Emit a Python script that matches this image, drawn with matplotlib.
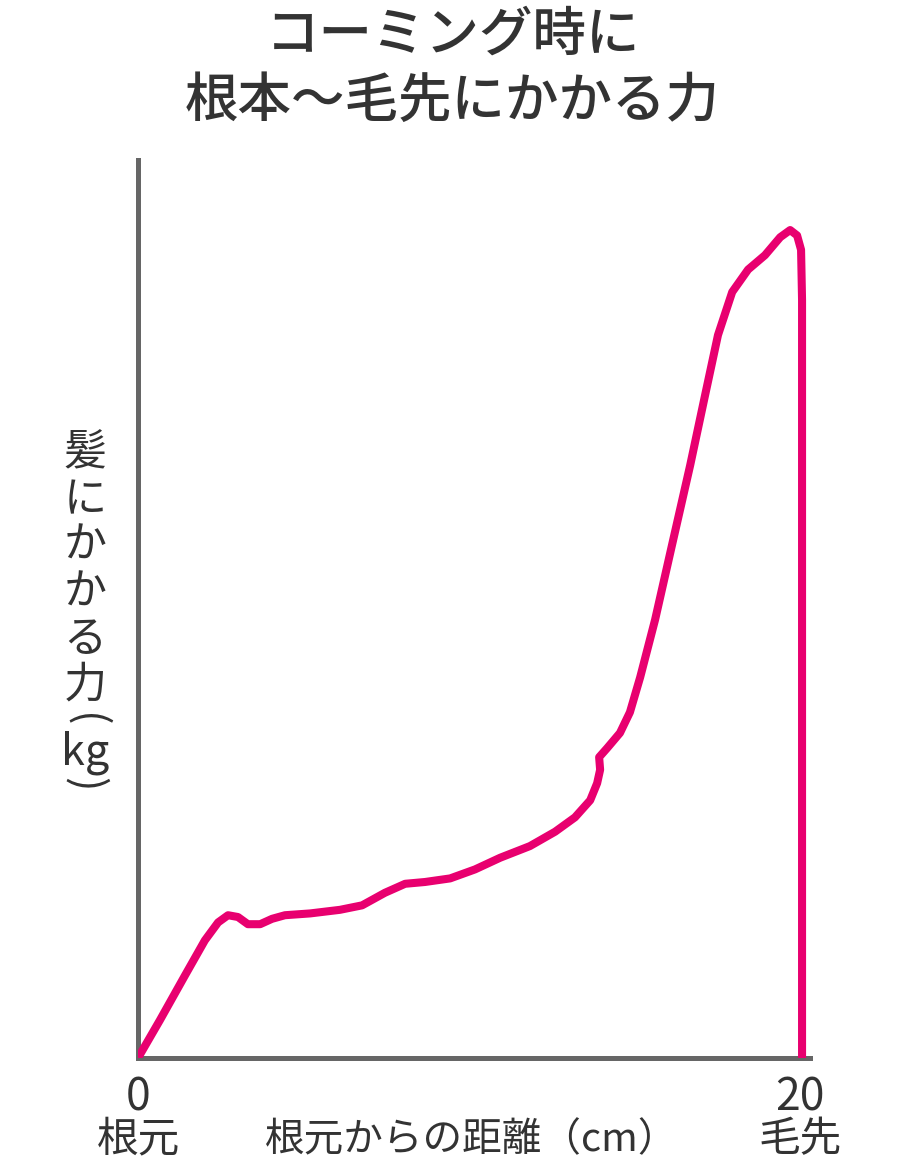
import numpy as np
import matplotlib
matplotlib.use("Agg")
from matplotlib import pyplot as plt
from matplotlib import transforms

plt.rcParams['font.family'] = ['Noto Sans CJK JP', 'DejaVu Sans']

# distance from root (cm) and force (relative, 0-100 of axis height)
dist = [0.0, 0.66, 1.42, 2.02, 2.42, 2.72, 3.02, 3.32, 3.69, 4.05, 4.44, 5.20,
        6.10, 6.77, 7.46, 8.07, 8.67, 9.43, 10.18, 10.94, 11.84, 12.60, 13.20,
        13.66, 13.87, 13.96, 13.93, 14.17, 14.56, 14.86, 15.17, 15.62, 16.13,
        16.68, 17.13, 17.52, 17.95, 18.43, 18.94, 19.40, 19.70, 19.91, 20.03,
        20.06, 20.06]
force = [0.0, 4.2, 9.2, 13.1, 15.1, 15.9, 15.7, 14.9, 14.9, 15.5, 15.9, 16.1,
         16.5, 17.0, 18.4, 19.4, 19.6, 20.0, 21.0, 22.3, 23.6, 25.2, 26.8,
         28.7, 30.6, 32.1, 33.5, 34.5, 36.2, 38.5, 42.4, 48.8, 57.1,
         66.0, 73.8, 80.5, 85.3, 87.8, 89.4, 91.4, 92.2, 91.6, 90.0,
         84.4, 0.0]

title = "コーミング時に\n根本〜毛先にかかる力"
ylabel_chars = ["髪", "に", "か", "か", "る", "力", "(", "kg", ")"]
xticks = [0, 20]
xtick_sub = ["根元", "毛先"]
xlabel = "根元からの距離（cm）"

txt = "#333333"
pink = "#e8006f"

fig = plt.figure(figsize=(9, 11.7), dpi=100)
ax = fig.add_axes([138/900, 1 - 1058/1170, (810-138)/900, (1058-160)/1170])

ax.plot(dist, force, color=pink, lw=5.8, solid_capstyle='round',
        solid_joinstyle='round', zorder=3)

ax.set_xlim(0, 20.3)
ax.set_ylim(0, 100)
for s in ['top', 'right']:
    ax.spines[s].set_visible(False)
for s in ['left', 'bottom']:
    ax.spines[s].set_color('#666666')
    ax.spines[s].set_linewidth(3.6)
ax.set_yticks([])
ax.set_xticks(xticks)
ax.set_xticklabels([str(t) for t in xticks], fontsize=32, color=txt)
ax.tick_params(axis='x', length=0, pad=12)

# labels under the ticks
trans = transforms.blended_transform_factory(ax.transData, fig.transFigure)
for t, s in zip(xticks, xtick_sub):
    ax.text(t, 1 - 1140/1170, s, transform=trans, ha='center', va='center',
            fontsize=30, color=txt, clip_on=False)
fig.text(472/900, 1 - 1140/1170, xlabel, ha='center', va='center',
         fontsize=28.5, color=txt)

fig.text(0.503, 1 - 69/1170, title, ha='center', va='center', fontsize=38.5,
         fontweight='medium', color=txt, linespacing=1.3)

# vertical y label, one character per line (parens turned sideways)
ys = [453, 500, 546, 593, 640, 686, 720, 753, 784]
for c, y in zip(ylabel_chars, ys):
    rot = -90 if c in "()" else 0
    fig.text(85/900, 1 - y/1170, c, ha='center', va='center', fontsize=31,
             color=txt, rotation=rot)

fig.savefig("out.png", dpi=100, facecolor='white')
